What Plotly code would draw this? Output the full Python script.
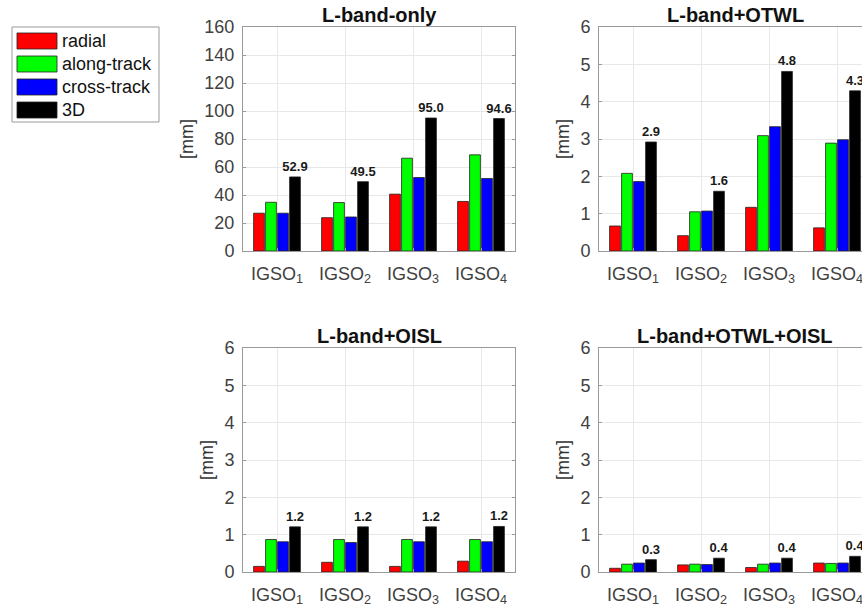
import plotly.graph_objects as go

W, H = 862, 606

categories = ["IGSO<sub>1</sub>", "IGSO<sub>2</sub>", "IGSO<sub>3</sub>", "IGSO<sub>4</sub>"]
series_names = ["radial", "along-track", "cross-track", "3D"]
series_colors = ["#ff0000", "#00ff00", "#0000ff", "#000000"]
panel_titles = ["L-band-only", "L-band+OTWL", "L-band+OISL", "L-band+OTWL+OISL"]

# L-band-only [mm]
lb_radial = [27.0, 23.8, 40.6, 35.4]
lb_along = [34.8, 34.6, 66.3, 68.7]
lb_cross = [27.0, 24.3, 52.5, 51.8]
lb_3d = [52.9, 49.5, 95.0, 94.6]

# L-band+OTWL [mm]
otwl_radial = [0.67, 0.41, 1.17, 0.62]
otwl_along = [2.08, 1.05, 3.09, 2.89]
otwl_cross = [1.86, 1.07, 3.33, 2.98]
otwl_3d = [2.92, 1.60, 4.81, 4.29]

# L-band+OISL [mm]
oisl_radial = [0.15, 0.26, 0.15, 0.29]
oisl_along = [0.87, 0.87, 0.87, 0.87]
oisl_cross = [0.81, 0.79, 0.81, 0.81]
oisl_3d = [1.21, 1.21, 1.21, 1.22]

# L-band+OTWL+OISL [mm]
all_radial = [0.10, 0.19, 0.12, 0.24]
all_along = [0.21, 0.21, 0.21, 0.23]
all_cross = [0.24, 0.20, 0.24, 0.24]
all_3d = [0.33, 0.37, 0.37, 0.42]

y_ranges = [[0, 160], [0, 6], [0, 6], [0, 6]]
y_dticks = [20, 1, 1, 1]

panels = [
    [lb_radial, lb_along, lb_cross, lb_3d],
    [otwl_radial, otwl_along, otwl_cross, otwl_3d],
    [oisl_radial, oisl_along, oisl_cross, oisl_3d],
    [all_radial, all_along, all_cross, all_3d],
]

FONT = "Liberation Sans, Arial, sans-serif"

def px_x(x):
    return x / W

def px_y(y):
    return 1 - y / H

# panel boxes in page pixels: (left, right, top, bottom)
left_l, left_r = 243, 515
right_l = 599
top_t, top_b = 27, 251
bot_t, bot_b = 348, 572
unit = (left_r - left_l) / 4.0
right_r_full = right_l + 4 * unit

boxes = [
    (left_l, left_r, top_t, top_b),
    (right_l, W, top_t, top_b),
    (left_l, left_r, bot_t, bot_b),
    (right_l, W, bot_t, bot_b),
]

fig = go.Figure()

for p, series in enumerate(panels):
    ax = "" if p == 0 else str(p + 1)
    for s, vals in enumerate(series):
        kw = {}
        if s == 3:
            kw = dict(
                texttemplate="%{y:.1f}",
                textposition="outside",
                textfont=dict(family=FONT, size=13, color="#1a1a1a", weight="bold"),
                cliponaxis=False,
                constraintext="none",
            )
        fig.add_trace(go.Bar(
            x=categories, y=vals, name=series_names[s],
            marker=dict(color=series_colors[s], line=dict(color="#222222", width=0.8)),
            xaxis="x" + ax, yaxis="y" + ax, showlegend=False,
            offsetgroup=str(s), **kw,
        ))

layout = dict(
    width=W, height=H,
    margin=dict(l=0, r=0, t=0, b=0),
    paper_bgcolor="white", plot_bgcolor="white",
    barmode="group", bargap=0.294, bargroupgap=0.1,
    font=dict(family=FONT, size=18, color="#333333"),
    showlegend=False,
)

annotations = []
shapes = []
for p, (l, r, t, b) in enumerate(boxes):
    ax = "" if p == 0 else str(p + 1)
    is_right = p in (1, 3)
    xr_max = -0.5 + (r - l) / unit
    layout["xaxis" + ax] = dict(
        domain=[px_x(l), min(1.0, px_x(r))], anchor="y" + ax,
        range=[-0.5, xr_max], type="category",
        showgrid=True, gridcolor="#e8e8e8", gridwidth=1,
        showline=True, linecolor="#9a9a9a", linewidth=1, mirror=True,
        ticks="inside", ticklen=3, tickcolor="#9a9a9a",
        tickfont=dict(family=FONT, size=18, color="#404040"),
        ticklabelstandoff=6, fixedrange=True, automargin=False,
    )
    layout["yaxis" + ax] = dict(
        domain=[px_y(b), px_y(t)], anchor="x" + ax,
        range=y_ranges[p], dtick=y_dticks[p], tick0=0,
        showgrid=True, gridcolor="#e8e8e8", gridwidth=1,
        showline=True, linecolor="#9a9a9a", linewidth=1,
        mirror=False if is_right else "ticks",
        ticks="inside", ticklen=3, tickcolor="#9a9a9a",
        tickfont=dict(family=FONT, size=18, color="#404040"),
        ticklabelstandoff=4, zeroline=False,
        title=dict(text="[mm]", font=dict(family=FONT, size=18, color="#333333"), standoff=6),
        fixedrange=True, automargin=False,
    )
    cx = (l + (right_r_full if is_right else r)) / 2.0
    annotations.append(dict(
        text="<b>" + panel_titles[p] + "</b>", x=px_x(cx), y=px_y(t),
        xref="paper", yref="paper", xanchor="center", yanchor="bottom",
        showarrow=False, yshift=-1,
        font=dict(family=FONT, size=20, color="#111111"),
    ))

# legend (drawn manually to match the large swatches)
shapes.append(dict(type="rect", xref="paper", yref="paper",
                   x0=px_x(12), x1=px_x(159), y0=px_y(122), y1=px_y(27),
                   line=dict(color="#9a9a9a", width=1), fillcolor="white", layer="above"))
for i, name in enumerate(series_names):
    cy = 41 + i * 23
    shapes.append(dict(type="rect", xref="paper", yref="paper",
                       x0=px_x(17), x1=px_x(57), y0=px_y(cy + 8), y1=px_y(cy - 8),
                       line=dict(color="#222222", width=0.8), fillcolor=series_colors[i], layer="above"))
    annotations.append(dict(
        text=name, x=px_x(60), y=px_y(cy), xref="paper", yref="paper",
        xanchor="left", yanchor="middle", showarrow=False,
        font=dict(family=FONT, size=18, color="#111111"),
    ))

layout["annotations"] = annotations
layout["shapes"] = shapes
fig.update_layout(**layout)

fig.write_html(
    "out.html",
    config={"displayModeBar": False},
    post_script=(
        "document.body.style.margin='0';"
        "document.body.style.overflow='hidden';"
        "document.documentElement.style.overflow='hidden';"
    ),
)
